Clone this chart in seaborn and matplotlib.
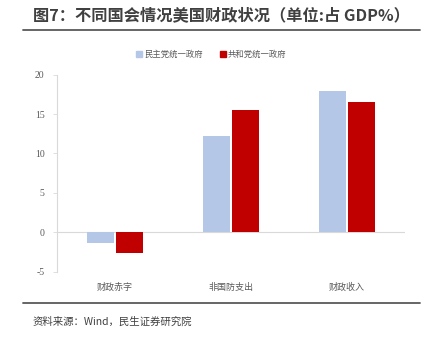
import matplotlib
matplotlib.use("Agg")
import matplotlib.pyplot as plt
import seaborn as sns
import pandas as pd
from matplotlib.lines import Line2D

categories = ["财政赤字", "非国防支出", "财政收入"]
series_names = ["民主党统一政府", "共和党统一政府"]
dem_values = [-1.3, 12.15, 17.9]
rep_values = [-2.6, 15.5, 16.5]
y_ticks = [-5, 0, 5, 10, 15, 20]
title = "图7：不同国会情况美国财政状况（单位:占 GDP%）"
source = "资料来源：Wind，民生证券研究院"
colors = ["#B4C7E7", "#C00000"]

df = pd.DataFrame({
    "cat": categories * 2,
    "series": [series_names[0]] * 3 + [series_names[1]] * 3,
    "value": dem_values + rep_values,
})

sns.set_theme(style="white")
plt.rcParams["font.family"] = ["Noto Sans CJK SC", "DejaVu Sans"]

fig = plt.figure(figsize=(4.35, 3.47), dpi=100)
ax = fig.add_axes([0.131, 0.217, 0.80, 0.568])

sns.barplot(data=df, x="cat", y="value", hue="series", order=categories,
            hue_order=series_names, palette=colors, width=0.5, gap=0.1,
            saturation=1, ax=ax, legend=False, edgecolor="none")

ax.set_ylim(-5, 20)
ax.set_xlim(-0.5, 2.5)
ax.set_yticks(y_ticks)
ax.set_yticklabels([str(t) for t in y_ticks], family=["Liberation Serif", "DejaVu Serif"],
                   fontsize=7, color="#595959")
ax.set_xticks(range(len(categories)))
ax.set_xticklabels(categories, fontsize=6.5, color="#595959", family=["Noto Sans CJK SC"])
ax.tick_params(axis="x", length=0, pad=8)
ax.tick_params(axis="y", length=3, width=0.6, color="#D9D9D9", pad=6, left=True, direction="out")
ax.set_xlabel("")
ax.set_ylabel("")
for s in ["top", "right", "bottom"]:
    ax.spines[s].set_visible(False)
ax.spines["left"].set_color("#D9D9D9")
ax.spines["left"].set_linewidth(0.8)
ax.axhline(0, color="#D9D9D9", linewidth=0.8, zorder=0.5)

handles = [Line2D([0], [0], marker="s", linestyle="", markersize=4.5,
                  markerfacecolor=c, markeredgecolor=c) for c in colors]
fig.legend(handles, series_names, loc="center", bbox_to_anchor=(0.485, 0.842),
           ncol=2, frameon=False, fontsize=6, handlelength=0.8, handletextpad=0.2,
           columnspacing=2.0, labelcolor="#595959")

fig.text(0.076, 0.955, title, fontsize=11.7, fontweight="bold", color="#404040",
         va="center", ha="left")
fig.add_artist(Line2D([0.053, 0.966], [0.913, 0.913], color="#595959", linewidth=1.3,
                      transform=fig.transFigure))
fig.add_artist(Line2D([0.053, 0.966], [0.127, 0.127], color="#595959", linewidth=1.3,
                      transform=fig.transFigure))
fig.text(0.074, 0.072, source, fontsize=7.5, color="#404040", va="center", ha="left")

fig.savefig("out.png", dpi=100)
